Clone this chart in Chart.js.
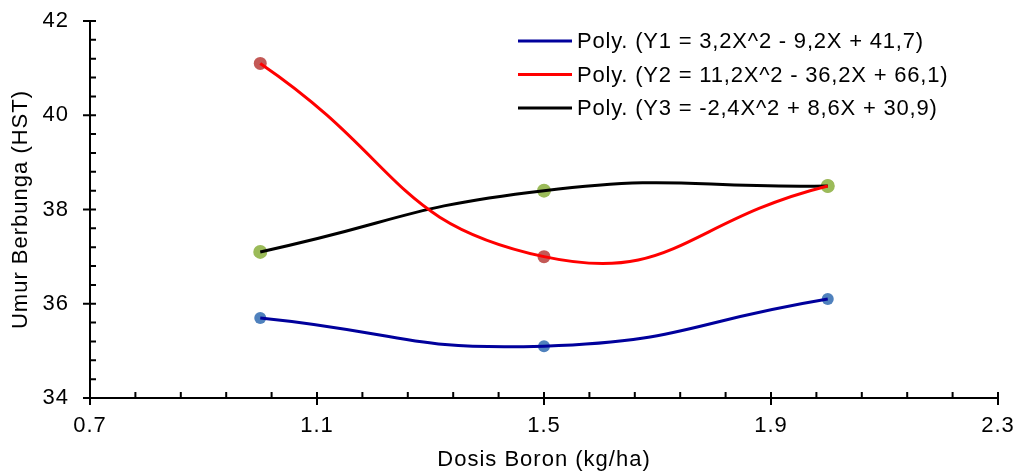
<!DOCTYPE html>
<html>
<head>
<meta charset="utf-8">
<script src="https://cdn.jsdelivr.net/npm/chart.js@4.4.1/dist/chart.umd.min.js"></script>
<style>
  html, body { margin: 0; padding: 0; background: #fff; }
  #wrap { width: 1014px; height: 473px; }
</style>
</head>
<body>
<div id="wrap"><canvas id="chart" width="1014" height="473"></canvas></div>
<script>
// Data
const dosis = [1, 1.5, 2];
const umurY1 = [35.7, 35.1, 36.1];
const umurY2 = [41.1, 37.0, 38.5];
const umurY3 = [37.1, 38.4, 38.5];
const trendLabels = [
    'Poly. (Y1 = 3,2X^2 - 9,2X + 41,7)',
    'Poly. (Y2 = 11,2X^2 - 36,2X + 66,1)',
    'Poly. (Y3 = -2,4X^2 + 8,6X + 30,9)'
];
const xTicks = [0.7, 1.1, 1.5, 1.9, 2.3];
const yTicks = [34, 36, 38, 40, 42];

const FONT = 'Liberation Sans, Arial, sans-serif';

function pts(ys) {
    return dosis.map((x, i) => ({ x: x, y: ys[i] }));
}

// Garis tren (order 0 = digambar paling atas) dan titik pengamatan
function trend(label, ys, color, width) {
    return {
        label: label, data: pts(ys), type: 'line', order: 0,
        borderColor: color, borderWidth: width, tension: 0.5,
        pointRadius: 0, fill: false
    };
}
function marker(ys, color, r, order) {
    return {
        label: '', data: pts(ys), type: 'scatter', order: order,
        backgroundColor: color, borderWidth: 0, pointRadius: r, pointHoverRadius: r
    };
}

// Minor ticks + major ticks + legend inside the plot
const axisDecor = {
    id: 'axisDecor',
    beforeDraw(chart) {
        chart.ctx.letterSpacing = '1px';
    },
    afterDraw(chart) {
        const ctx = chart.ctx;
        const xs = chart.scales.x, ys = chart.scales.y;
        const x0 = xs.getPixelForValue(xTicks[0]);
        const yb = ys.getPixelForValue(yTicks[0]);
        ctx.save();
        ctx.strokeStyle = '#000';
        ctx.lineWidth = 2;
        ctx.beginPath();
        // axis lines
        ctx.moveTo(x0, ys.getPixelForValue(yTicks[yTicks.length - 1]) - 1);
        ctx.lineTo(x0, yb);
        ctx.lineTo(xs.getPixelForValue(xTicks[xTicks.length - 1]) + 1, yb);
        // x ticks
        xTicks.forEach((v, i) => {
            const p = xs.getPixelForValue(v);
            ctx.moveTo(p, yb - 6); ctx.lineTo(p, yb + 7);
            if (i < xTicks.length - 1) {
                const step = (xTicks[i + 1] - v) / 5;
                for (let k = 1; k < 5; k++) {
                    const q = xs.getPixelForValue(v + k * step);
                    ctx.moveTo(q, yb); ctx.lineTo(q, yb - 6);
                }
            }
        });
        // y ticks
        yTicks.forEach((v, i) => {
            const p = ys.getPixelForValue(v);
            ctx.moveTo(x0 - 7, p); ctx.lineTo(x0 + 6, p);
            if (i < yTicks.length - 1) {
                const step = (yTicks[i + 1] - v) / 5;
                for (let k = 1; k < 5; k++) {
                    const q = ys.getPixelForValue(v + k * step);
                    ctx.moveTo(x0, q); ctx.lineTo(x0 + 6, q);
                }
            }
        });
        ctx.stroke();

        // legend
        ctx.font = '22px ' + FONT;
        ctx.letterSpacing = '0.8px';
        ctx.textBaseline = 'middle';
        ctx.fillStyle = '#000';
        const lines = chart.data.datasets.filter(d => d.type === 'line');
        lines.forEach((d, i) => {
            const y = 41 + i * 33.5;
            ctx.strokeStyle = d.borderColor;
            ctx.lineWidth = 3;
            ctx.beginPath();
            ctx.moveTo(518, y); ctx.lineTo(572, y);
            ctx.stroke();
            ctx.fillText(d.label, 577, y + 1);
        });
        ctx.restore();
    }
};

new Chart(document.getElementById('chart'), {
    data: {
        datasets: [
            trend(trendLabels[0], umurY1, '#00009C', 3),
            trend(trendLabels[1], umurY2, '#FF0000', 3),
            trend(trendLabels[2], umurY3, '#000000', 3),
            marker(umurY1, '#4F81BD', 6, 3),
            marker(umurY2, 'rgba(192,80,77,0.95)', 6.5, 2),
            marker(umurY3, '#9BBB59', 7, 1)
        ]
    },
    options: {
        responsive: false,
        animation: false,
        events: [],
        layout: { padding: { top: 21, right: 16, left: 0, bottom: 0 } },
        plugins: {
            legend: { display: false },
            tooltip: { enabled: false }
        },
        scales: {
            x: {
                type: 'linear', min: 0.7, max: 2.3,
                afterBuildTicks: s => { s.ticks = xTicks.map(v => ({ value: v })); },
                afterFit: s => { s.height = 75; s.paddingLeft = 0; s.paddingRight = 0; },
                grid: { display: false, drawTicks: false },
                border: { display: false },
                ticks: {
                    color: '#000', padding: 15,
                    font: { family: FONT, size: 22 },
                    callback: v => v.toFixed(1),
                    maxRotation: 0, autoSkip: false
                },
                title: {
                    display: true, text: 'Dosis Boron (kg/ha)', color: '#000',
                    font: { family: FONT, size: 22 }, padding: { top: 6, bottom: 0 }
                }
            },
            y: {
                type: 'linear', min: 34, max: 42,
                afterBuildTicks: s => { s.ticks = yTicks.map(v => ({ value: v })); },
                afterFit: s => { s.width = 90; s.paddingTop = 0; s.paddingBottom = 0; },
                grid: { display: false, drawTicks: false },
                border: { display: false },
                ticks: {
                    color: '#000', padding: 21,
                    font: { family: FONT, size: 22 }
                },
                title: {
                    display: true, text: 'Umur Berbunga (HST)', color: '#000',
                    font: { family: FONT, size: 22 }, padding: { top: 8, bottom: 0 }
                }
            }
        }
    },
    plugins: [axisDecor]
});
</script>
</body>
</html>
